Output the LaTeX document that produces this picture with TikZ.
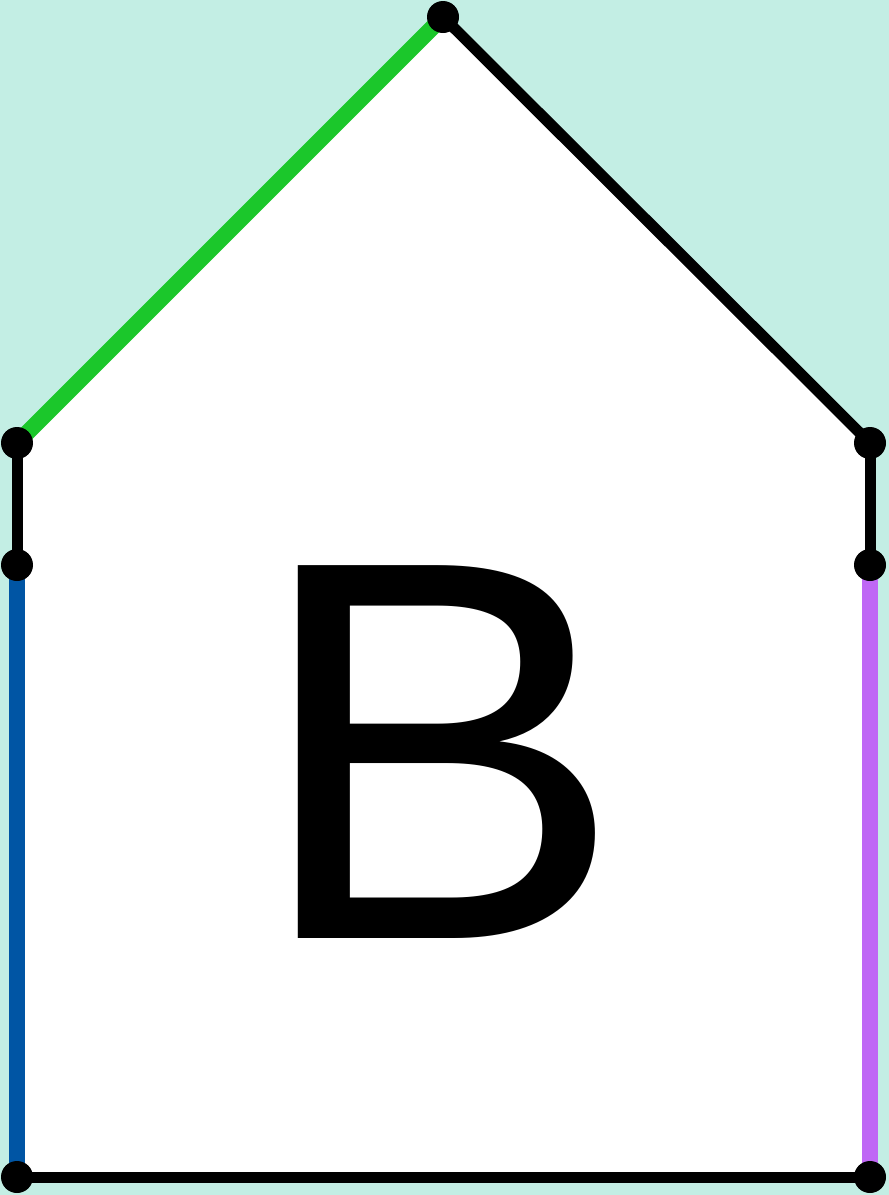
\documentclass[tikz,border=0pt]{standalone}
\usepackage{fontspec}
\setmainfont{Liberation Sans}
\definecolor{mint}{HTML}{C3EEE4}
\definecolor{edgegreen}{HTML}{1BC72B}
\definecolor{edgeblue}{HTML}{0055A4}
\definecolor{edgepurple}{HTML}{BF67F5}
\tikzset{
  vdot/.style={circle, fill=black, minimum size=32pt, inner sep=0pt},
  edgeline/.style={line width=11pt, line cap=butt, black},
  coloredge/.style={line width=16pt, line cap=butt},
}
\begin{document}
\begin{tikzpicture}[x=1pt, y=-1pt]
\fill[mint] (0,0) rectangle (889,1195);
\useasboundingbox (0,0) rectangle (889,1195);
\coordinate (top) at (443,17);
\coordinate (lu) at (17,443);
\coordinate (ll) at (17,565);
\coordinate (lb) at (17,1177);
\coordinate (ru) at (870,443);
\coordinate (rl) at (870,565);
\coordinate (rb) at (870,1177);
\fill[white] (top) -- (ru) -- (rb) -- (lb) -- (lu) -- cycle;
\draw[coloredge, edgegreen] (lu) -- (top);
\draw[edgeline] (top) -- (ru);
\draw[edgeline] (ru) -- (rl);
\draw[coloredge, edgepurple] (rl) -- (rb);
\draw[edgeline] (rb) -- (lb);
\draw[coloredge, edgeblue] (lb) -- (ll);
\draw[edgeline] (ll) -- (lu);
\foreach \p in {top,lu,ll,lb,ru,rl,rb} \node[vdot] at (\p) {};
\node[anchor=base, inner sep=0pt, xscale=1.03, font=\fontsize{542}{542}\selectfont] (label) at (439,938) {B};
\end{tikzpicture}
\end{document}
